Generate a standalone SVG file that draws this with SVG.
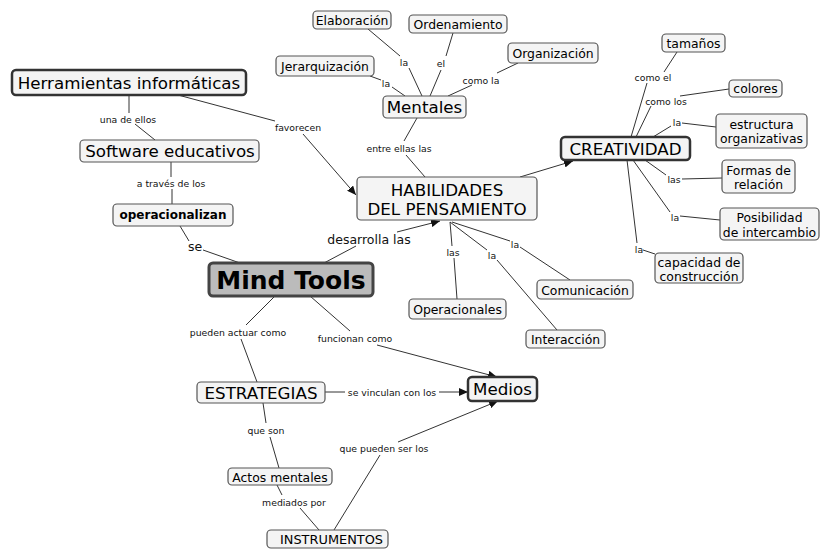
<svg xmlns="http://www.w3.org/2000/svg" width="825" height="551" viewBox="0 0 825 551">
<defs>
<marker id="arr" markerUnits="userSpaceOnUse" markerWidth="10" markerHeight="8" refX="9" refY="4" orient="auto">
<path d="M0,0 L9,4 L0,8 Z" fill="#111"/>
</marker>
<style>
.n rect{fill:#f4f4f4;stroke:#555;stroke-width:1.2}
.n.thick rect{stroke:#333;stroke-width:2.5}
.n text{font-family:"DejaVu Sans",Verdana,sans-serif;fill:#000;text-anchor:middle;dominant-baseline:central}
.big text{font-size:16.7px}
.small text{font-size:12.4px}
.lbl{font-family:"DejaVu Sans",Verdana,sans-serif;font-size:9.3px;fill:#111;text-anchor:middle;dominant-baseline:central}
.lbl.l{font-size:12.5px}
#links line{stroke:#333;stroke-width:1}
#links line.a{marker-end:url(#arr)}
</style>
</defs>
<rect x="0" y="0" width="825" height="551" fill="#fff"/>

<g id="links">
<line x1="129" y1="95" x2="129" y2="113"/><line x1="135" y1="124" x2="155" y2="140"/>
<line x1="178" y1="95" x2="275" y2="121"/><line class="a" x1="303" y1="134" x2="356" y2="195"/>
<line x1="171" y1="162" x2="171" y2="177"/><line x1="172" y1="189" x2="172" y2="204"/>
<line x1="180" y1="226" x2="189" y2="241"/><line x1="203" y1="250" x2="240" y2="263"/>
<line x1="324" y1="263" x2="356" y2="246"/><line class="a" x1="397" y1="232" x2="440" y2="221"/>
<line x1="417" y1="118" x2="404" y2="141"/><line x1="406" y1="155" x2="425" y2="177"/>
<line x1="368" y1="29" x2="400" y2="56"/><line x1="409" y1="68" x2="422" y2="96"/>
<line x1="453" y1="33" x2="446" y2="56"/><line x1="441" y1="70" x2="430" y2="96"/>
<line x1="370" y1="76" x2="381" y2="80"/><line x1="392" y1="87" x2="405" y2="96"/>
<line x1="518" y1="63" x2="497" y2="73"/><line x1="472" y1="85" x2="448" y2="96"/>
<line class="a" x1="520" y1="177" x2="573" y2="161"/>
<line x1="631" y1="137" x2="647" y2="83"/><line x1="664" y1="72" x2="677" y2="52"/>
<line x1="636" y1="137" x2="651" y2="106"/><line x1="680" y1="96" x2="729" y2="89"/>
<line x1="653" y1="137" x2="671" y2="126"/><line x1="682" y1="123" x2="716" y2="127"/>
<line x1="645" y1="160" x2="666" y2="175"/><line x1="682" y1="179" x2="722" y2="178"/>
<line x1="633" y1="160" x2="670" y2="212"/><line x1="680" y1="216" x2="720" y2="220"/>
<line x1="627" y1="160" x2="637" y2="243"/><line x1="643" y1="250" x2="655" y2="254"/>
<line x1="450" y1="222" x2="452" y2="246"/><line x1="454" y1="258" x2="457" y2="299"/>
<line x1="450" y1="222" x2="487" y2="250"/><line x1="497" y1="260" x2="557" y2="330"/>
<line x1="452" y1="222" x2="510" y2="241"/><line x1="520" y1="247" x2="570" y2="280"/>
<line x1="275" y1="296" x2="246" y2="325"/><line x1="241" y1="339" x2="257" y2="382"/>
<line x1="310" y1="296" x2="350" y2="331"/><line class="a" x1="377" y1="345" x2="497" y2="377"/>
<line x1="325" y1="392" x2="345" y2="392"/><line class="a" x1="439" y1="392" x2="468" y2="392"/>
<line x1="263" y1="403" x2="266" y2="423"/><line x1="270" y1="437" x2="279" y2="468"/>
<line x1="277" y1="485" x2="282" y2="495"/><line x1="300" y1="508" x2="319" y2="530"/>
<line x1="334" y1="530" x2="380" y2="455"/><line class="a" x1="398" y1="442" x2="498" y2="401"/>

<text class="lbl" x="128" y="119">una de ellos</text>
<text class="lbl" x="298" y="127">favorecen</text>
<text class="lbl" x="171" y="183">a través de los</text>
<text class="lbl l" x="195" y="246">se</text>
<text class="lbl" x="404" y="62">la</text>
<text class="lbl" x="441" y="63">el</text>
<text class="lbl" x="386" y="83">la</text>
<text class="lbl" x="481" y="80">como la</text>
<text class="lbl" x="399" y="148">entre ellas las</text>
<text class="lbl" x="653" y="77">como el</text>
<text class="lbl" x="666" y="101">como los</text>
<text class="lbl" x="677" y="122">la</text>
<text class="lbl" x="674" y="179">las</text>
<text class="lbl" x="675" y="217">la</text>
<text class="lbl" x="639" y="249">la</text>
<text class="lbl l" x="369" y="239">desarrolla las</text>
<text class="lbl" x="453" y="252">las</text>
<text class="lbl" x="492" y="255">la</text>
<text class="lbl" x="515" y="244">la</text>
<text class="lbl" x="238" y="332">pueden actuar como</text>
<text class="lbl" x="355" y="338">funcionan como</text>
<text class="lbl" x="392" y="392">se vinculan con los</text>
<text class="lbl" x="266" y="430">que son</text>
<text class="lbl" x="294" y="502">mediados por</text>
<text class="lbl" x="384" y="448">que pueden ser los</text>
</g>

<g id="herramientas" class="n big thick"><rect x="12" y="70" width="234" height="25" rx="4"/><text x="129" y="83">Herramientas informáticas</text></g>
<g id="software" class="n big"><rect x="80" y="140" width="179" height="22" rx="4"/><text x="170" y="151">Software educativos</text></g>
<g id="operacionalizan" class="n"><rect x="113" y="204" width="120" height="22" rx="4"/><text x="173" y="215" style="font-size:12px;font-weight:bold">operacionalizan</text></g>
<g id="mindtools" class="n"><rect x="209" y="263" width="164" height="33" rx="4" style="fill:#bbbbbb;stroke:#444;stroke-width:3"/><text x="291" y="280" style="font-size:25px;font-weight:bold">Mind Tools</text></g>
<g id="elaboracion" class="n small"><rect x="313" y="11" width="78" height="18" rx="4"/><text x="352" y="20">Elaboración</text></g>
<g id="ordenamiento" class="n small"><rect x="409" y="15" width="98" height="18" rx="4"/><text x="458" y="24">Ordenamiento</text></g>
<g id="organizacion" class="n small"><rect x="508" y="43" width="90" height="20" rx="4"/><text x="553" y="53">Organización</text></g>
<g id="jerarquizacion" class="n small"><rect x="276" y="56" width="98" height="20" rx="4"/><text x="325" y="66">Jerarquización</text></g>
<g id="mentales" class="n big"><rect x="383" y="96" width="83" height="22" rx="4"/><text x="424.5" y="107">Mentales</text></g>
<g id="habilidades" class="n big"><rect x="357" y="177" width="180" height="43" rx="4"/><text x="447" y="190">HABILIDADES</text><text x="447" y="209">DEL PENSAMIENTO</text></g>
<g id="creatividad" class="n big thick"><rect x="561" y="137" width="129" height="23" rx="4"/><text x="625.5" y="148.5">CREATIVIDAD</text></g>
<g id="tamanos" class="n small"><rect x="662" y="34" width="63" height="18" rx="4"/><text x="693.5" y="43">tamaños</text></g>
<g id="colores" class="n small"><rect x="729" y="80" width="53" height="17" rx="4"/><text x="755.5" y="88.5">colores</text></g>
<g id="estructura" class="n small"><rect x="716" y="114" width="91" height="34" rx="4"/><text x="761.5" y="124">estructura</text><text x="761.5" y="138">organizativas</text></g>
<g id="formas" class="n small"><rect x="722" y="160" width="73" height="33" rx="4"/><text x="758.5" y="170">Formas de</text><text x="758.5" y="184">relación</text></g>
<g id="posibilidad" class="n small"><rect x="720" y="208" width="99" height="32" rx="4"/><text x="769.5" y="217">Posibilidad</text><text x="769.5" y="232">de intercambio</text></g>
<g id="capacidad" class="n small"><rect x="655" y="253" width="88" height="30" rx="4"/><text x="699" y="262">capacidad de</text><text x="699" y="276">construcción</text></g>
<g id="comunicacion" class="n small"><rect x="537" y="280" width="96" height="19" rx="4"/><text x="585" y="290">Comunicación</text></g>
<g id="operacionales" class="n small"><rect x="409" y="299" width="97" height="20" rx="4"/><text x="457.5" y="309">Operacionales</text></g>
<g id="interaccion" class="n small"><rect x="526" y="330" width="79" height="18" rx="4"/><text x="565.5" y="339">Interacción</text></g>
<g id="estrategias" class="n big"><rect x="197" y="382" width="128" height="21" rx="4"/><text x="261" y="393">ESTRATEGIAS</text></g>
<g id="medios" class="n big thick"><rect x="468" y="377" width="69" height="24" rx="4"/><text x="502.5" y="389">Medios</text></g>
<g id="actos" class="n small"><rect x="228" y="468" width="104" height="17" rx="4"/><text x="280" y="477">Actos mentales</text></g>
<g id="instrumentos" class="n"><rect x="267" y="530" width="121" height="18" rx="4"/><text x="331.5" y="539" style="font-size:12.9px">INSTRUMENTOS</text></g>
</svg>
